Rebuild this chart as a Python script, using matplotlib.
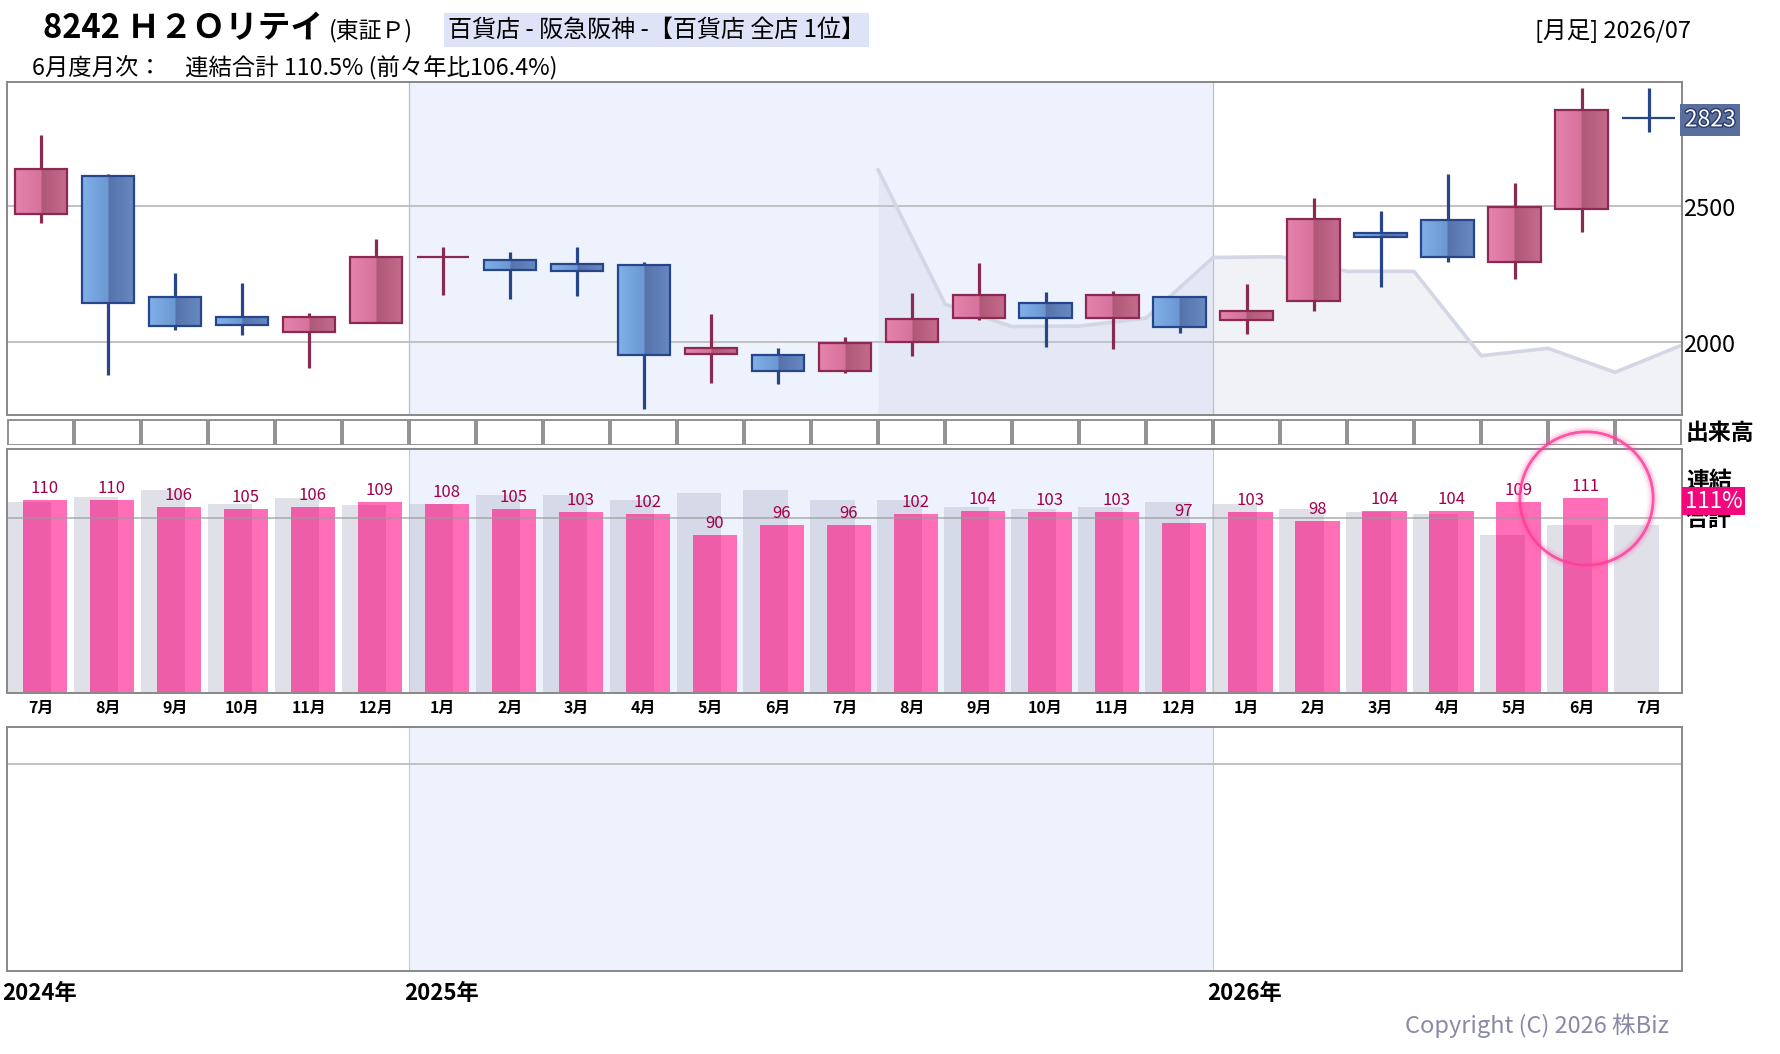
import numpy as np
import matplotlib
matplotlib.use('Agg')
import matplotlib.pyplot as plt
from matplotlib.colors import LinearSegmentedColormap
from matplotlib.transforms import blended_transform_factory
import matplotlib.patheffects as pe

plt.rcParams['font.family'] = ['Noto Sans CJK JP', 'DejaVu Sans']

# ---- data (月足 2024/07 - 2026/07) ----
months = ['7月', '8月', '9月', '10月', '11月', '12月', '1月', '2月', '3月', '4月', '5月', '6月',
          '7月', '8月', '9月', '10月', '11月', '12月', '1月', '2月', '3月', '4月', '5月', '6月', '7月']
opens = [2471, 2610, 2165, 2092, 2037, 2070, 2313, 2301, 2288, 2283, 1956, 1952, 1893,
         2000, 2088, 2143, 2088, 2165, 2082, 2151, 2401, 2449, 2294, 2489, 2825]
closes = [2636, 2143, 2059, 2063, 2092, 2312, 2315, 2265, 2261, 1952, 1978, 1893, 1996,
          2085, 2173, 2088, 2173, 2055, 2114, 2452, 2386, 2313, 2496, 2853, 2823]
highs = [2762, 2619, 2255, 2218, 2108, 2380, 2350, 2332, 2350, 2294, 2103, 1978, 2020,
         2181, 2292, 2185, 2189, 2169, 2214, 2531, 2482, 2618, 2585, 2935, 2935]
lows = [2440, 1881, 2047, 2028, 1907, 2070, 2175, 2160, 2172, 1754, 1849, 1846, 1886,
        1949, 2081, 1982, 1974, 2033, 2029, 2114, 2205, 2294, 2234, 2407, 2772]
# comparison line (grey area), on month boundaries from 2025/07-08 onward
comp_x = [12.5, 13.5, 14.5, 15.5, 16.5, 17.5, 18.5, 19.5, 20.5, 21.5, 22.5, 23.5, 24.5]
comp_vals = [2634, 2140, 2058, 2060, 2089, 2312, 2315, 2261, 2261, 1951, 1978, 1890, 1990]
# 月次 連結合計 (%), and previous year values (grey)
monthly = [110, 110, 106, 105, 106, 109, 108, 105, 103, 102, 90, 96,
           96, 102, 104, 103, 103, 97, 103, 98, 104, 104, 109, 111]
prev_year = [109, 112, 116, 108, 111, 107, 108, 113, 113, 110, 114, 116,
             110, 110, 106, 105, 106, 109, 108, 105, 103, 102, 90, 96, 96]
price_ticks = [2500, 2000]
last_price = 2823
years = ['2024年', '2025年', '2026年']
year_pos = [-0.5, 5.5, 17.5]

W, H = 1780, 1054
fig = plt.figure(figsize=(W / 100, H / 100), dpi=100)


def px_rect(x0, y0, x1, y1):
    return [x0 / W, 1 - y1 / H, (x1 - x0) / W, (y1 - y0) / H]


n = len(months)
xs = np.arange(n)
band = (5.5, 17.5)
band_color = '#edf2fd'
border = '#888888'


def setup(ax):
    ax.set_xlim(-0.5, n - 0.5)
    ax.set_xticks([])
    ax.set_yticks([])
    for s in ax.spines.values():
        s.set_color(border)
        s.set_linewidth(1.4)


# ---- main candle panel ----
ax = fig.add_axes(px_rect(7.3, 82.3, 1682, 415))
setup(ax)
ax.axvspan(*band, color=band_color, zorder=0, lw=0)
for b in band:
    ax.axvline(b, color='#b8bfcc', lw=0.9, zorder=1)
for t in price_ticks:
    ax.axhline(t, color='#bdbdbd', lw=1.3, zorder=1)
ax.fill_between(comp_x, comp_vals, 1700, color='#c2c5d6', alpha=0.22, lw=0, zorder=1)
ax.plot(comp_x, comp_vals, color='#d3d6e4', lw=2.6, zorder=1.5)

pink_cmap = LinearSegmentedColormap.from_list(
    'pk', [(0, '#e683ad'), (0.49, '#d6729c'), (0.5, '#ae5876'), (1, '#c66b8d')])
blue_cmap = LinearSegmentedColormap.from_list(
    'bl', [(0, '#80b0e8'), (0.49, '#6c98d2'), (0.5, '#5672aa'), (1, '#6889c2')])
grad = np.linspace(0, 1, 64).reshape(1, -1)
cw = 0.78
for i in range(n):
    o, c, h, l = opens[i], closes[i], highs[i], lows[i]
    up = c >= o
    edge = '#8a2a52' if up else '#27468a'
    ax.vlines(i, l, h, color=edge, lw=2.3, zorder=2)
    lo, hi = min(o, c), max(o, c)
    rect = ax.bar(i, hi - lo, bottom=lo, width=cw, facecolor='none',
                  edgecolor=edge, lw=1.6, zorder=4)[0]
    im = ax.imshow(grad, cmap=pink_cmap if up else blue_cmap, aspect='auto',
                   extent=(i - cw / 2, i + cw / 2, lo, hi), zorder=3)
    im.set_clip_path(rect)
ax.set_xlim(-0.5, n - 0.5)
ax.set_ylim(1733, 2956)

tr = blended_transform_factory(ax.transAxes, ax.transData)
for t in price_ticks:
    ax.annotate(str(t), (1.0, t), xycoords=tr, xytext=(1, -2), textcoords='offset points',
                ha='left', va='center', fontsize=17, color='black')
ax.annotate(str(last_price), (1.0, last_price), xycoords=tr, xytext=(2, -1),
            textcoords='offset points', ha='left', va='center', fontsize=16.5, color='white',
            path_effects=[pe.withStroke(linewidth=2, foreground='#2a3c6a')],
            bbox=dict(boxstyle='square,pad=0.2', fc='#5a6e9e', ec='none'))

# ---- volume row (出来高) ----
axv = fig.add_axes(px_rect(7.3, 419.3, 1682, 445.3))
axv.set_xlim(-0.5, n - 0.5)
axv.set_ylim(0, 1)
axv.axis('off')
vbars = axv.bar(xs, 0.94, bottom=0.03, width=0.97, facecolor='white', edgecolor=border, lw=1.3)
cyan_cmap = LinearSegmentedColormap.from_list('cy', ['#8fe2fc', '#6ea9ba'])
hb = vbars[1]
im = axv.imshow(grad, cmap=cyan_cmap, aspect='auto', zorder=0.5,
                extent=(hb.get_x(), hb.get_x() + hb.get_width(), 0.03, 0.97))
im.set_clip_path(hb)
axv.set_xlim(-0.5, n - 0.5)
axv.set_ylim(0, 1)

# ---- monthly bars (連結合計) ----
axb = fig.add_axes(px_rect(7.3, 449.3, 1682, 693.3))
setup(axb)
axb.axvspan(*band, color=band_color, zorder=0, lw=0)
for b in band:
    axb.axvline(b, color='#c4cad6', lw=0.8, zorder=0.5)
bw = 0.66
g_off, p_off = -0.18, 0.06
axb.bar(xs + g_off, prev_year, width=bw, color='#c0c2d2', alpha=0.5, lw=0, zorder=1)
mx = xs[:len(monthly)]
axb.bar(mx + p_off, monthly, width=bw, color='#ff6eb6', lw=0, zorder=2)
ov_l = p_off - bw / 2
ov_r = g_off + bw / 2
overlap = np.minimum(monthly, prev_year[:len(monthly)])
axb.bar(mx + (ov_l + ov_r) / 2, overlap, width=ov_r - ov_l, color='#ee5ea8', lw=0, zorder=2.5)
axb.axhline(100, color='#9a9a9a', lw=1.1, alpha=0.8, zorder=3)
for x, v in zip(mx, monthly):
    axb.annotate(str(v), (x + p_off, v), xytext=(0, 2), textcoords='offset points',
                 ha='center', va='bottom', fontsize=12, color='#a0004a', zorder=4)
axb.set_ylim(-0.5, 139)
axb.set_xticks(xs)
axb.set_xticklabels(months, fontsize=11.5, fontweight='bold')
axb.tick_params(axis='x', length=0, pad=5)
# highlight circle around latest month
cx, cy = mx[-1] + p_off, monthly[-1]
for lw, a in [(8, 0.1), (5, 0.18)]:
    axb.plot(cx, cy, marker='o', ms=96, mfc='none', mec='#ff5aa8', mew=lw, alpha=a,
             clip_on=False, zorder=9)
axb.plot(cx, cy, marker='o', ms=96, mfc='none', mec='#ff3d9a', mew=2.0, alpha=0.85,
         clip_on=False, zorder=10)

# ---- lower empty panel ----
axl = fig.add_axes(px_rect(7.3, 727, 1682, 971))
setup(axl)
axl.set_ylim(0, 1)
axl.axvspan(*band, color=band_color, zorder=0, lw=0)
for b in band:
    axl.axvline(b, color='#c4cad6', lw=0.8, zorder=0.5)
axl.axhline(0.848, color='#bdbdbd', lw=1.3, zorder=1)
trl = blended_transform_factory(axl.transData, fig.transFigure)
for y, p in zip(years, year_pos):
    axl.annotate(y, (p, 1 - 994 / H), xycoords=trl, xytext=(-4, 0), textcoords='offset points',
                 ha='left', va='center', fontsize=16, fontweight='bold', color='black',
                 annotation_clip=False)

# ---- header and side texts ----
fig.text(43 / W, 1 - 29 / H, '8242 Ｈ２Ｏリテイ', fontsize=23.5, fontweight='bold',
         va='center', ha='left')
fig.text(329 / W, 1 - 31 / H, '(東証Ｐ)', fontsize=16.5, va='center', ha='left')
fig.text(448 / W, 1 - 30 / H, '百貨店 - 阪急阪神 -【百貨店 全店 1位】', fontsize=17.3,
         va='center', ha='left',
         bbox=dict(boxstyle='square,pad=0.18', fc='#dfe3f8', ec='none'))
fig.text(1691 / W, 1 - 31 / H, '[月足] 2026/07', fontsize=17, va='center', ha='right')
fig.text(32 / W, 1 - 67 / H, '6月度月次：　連結合計 110.5% (前々年比106.4%)', fontsize=16.8,
         va='center', ha='left')
fig.text(1686 / W, 1 - 433 / H, '出来高', fontsize=16.5, fontweight='bold', va='center')
fig.text(1686 / W, 1 - 481 / H, '連結', fontsize=16.5, fontweight='bold', va='center')
fig.text(1686 / W, 1 - 520 / H, '合計', fontsize=16.5, fontweight='bold', va='center')
fig.text(1685 / W, 1 - 501 / H, '111%', fontsize=16, color='white', va='center',
         bbox=dict(boxstyle='square,pad=0.12', fc='#f2087c', ec='none'))
fig.text(1669 / W, 1 - 1026 / H, 'Copyright (C) 2026 株Biz', fontsize=17, color='#8a8aa8',
         ha='right', va='center')

fig.savefig('out.png', dpi=100)
